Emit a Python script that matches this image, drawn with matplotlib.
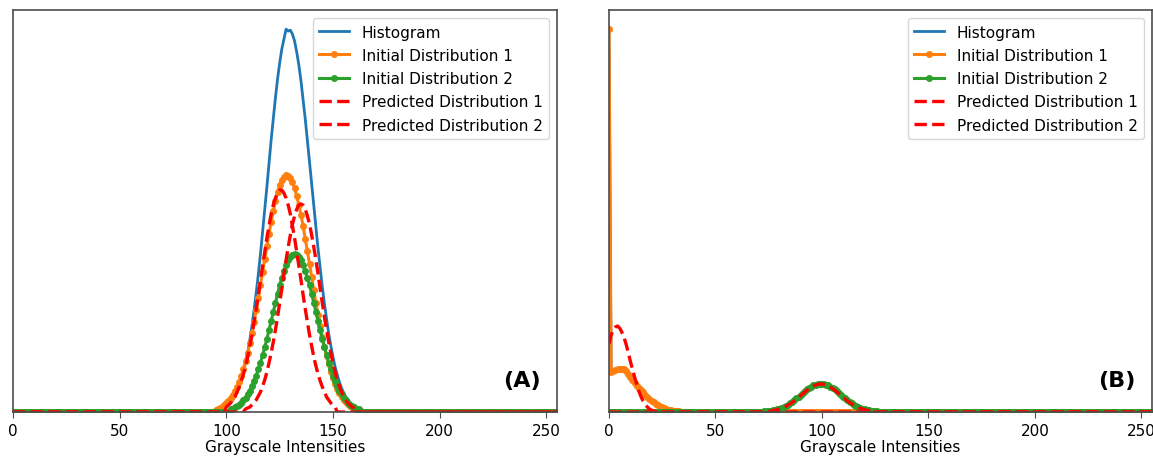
import numpy as np
import matplotlib
matplotlib.use("Agg")
import matplotlib.pyplot as plt

# ---------------- data ----------------
intensities = np.arange(256)
x_ticks = [0, 50, 100, 150, 200, 250]
legend_labels = ["Histogram", "Initial Distribution 1", "Initial Distribution 2",
                 "Predicted Distribution 1", "Predicted Distribution 2"]
panel_tags = ["(A)", "(B)"]
x_label = "Grayscale Intensities"

# Panel A : non-zero portions (start intensity, values); elsewhere zero
a_hist_start = 99
a_hist = [0.04, 0.05, 0.07, 0.09, 0.12, 0.16, 0.20, 0.25, 0.32, 0.40, 0.49, 0.59,
          0.72, 0.86, 1.02, 1.19, 1.38, 1.58, 1.80, 2.02, 2.25, 2.49, 2.72, 2.93,
          3.14, 3.33, 3.49, 3.63, 3.73, 3.83, 3.81, 3.82, 3.78, 3.71, 3.60, 3.47,
          3.31, 3.12, 2.93, 2.72, 2.50, 2.28, 2.06, 1.84, 1.63, 1.44, 1.25, 1.08,
          0.93, 0.78, 0.66, 0.55, 0.45, 0.37, 0.30, 0.24, 0.19, 0.15, 0.12, 0.09,
          0.07, 0.05, 0.04, 0.03, 0.02, 0.01]

a_init1_start = 95
a_init1 = [0.02, 0.03, 0.04, 0.05, 0.07, 0.09, 0.11, 0.14, 0.17, 0.21, 0.25, 0.30,
           0.36, 0.43, 0.51, 0.59, 0.69, 0.79, 0.90, 1.02, 1.14, 1.27, 1.40, 1.53,
           1.66, 1.78, 1.90, 2.01, 2.11, 2.20, 2.27, 2.32, 2.35, 2.37, 2.36, 2.34,
           2.30, 2.24, 2.16, 2.07, 1.97, 1.86, 1.73, 1.61, 1.48, 1.35, 1.22, 1.09,
           0.97, 0.86, 0.75, 0.65, 0.56, 0.48, 0.40, 0.34, 0.28, 0.23, 0.19, 0.15,
           0.12, 0.10, 0.08, 0.06, 0.05, 0.04, 0.03, 0.02, 0.01]

a_init2_start = 102
a_init2 = [0.03, 0.03, 0.05, 0.06, 0.07, 0.09, 0.12, 0.14, 0.18, 0.21, 0.26, 0.31,
           0.36, 0.43, 0.49, 0.57, 0.65, 0.73, 0.82, 0.91, 1.00, 1.09, 1.18, 1.27,
           1.34, 1.41, 1.47, 1.52, 1.55, 1.57, 1.58, 1.57, 1.55, 1.52, 1.47, 1.41,
           1.34, 1.27, 1.18, 1.09, 1.00, 0.91, 0.82, 0.73, 0.65, 0.57, 0.49, 0.43,
           0.36, 0.31, 0.26, 0.21, 0.18, 0.14, 0.12, 0.09, 0.07, 0.06, 0.05, 0.03,
           0.03]

a_pred1_start = 100
a_pred1 = [0.05, 0.07, 0.09, 0.12, 0.15, 0.20, 0.25, 0.31, 0.38, 0.46, 0.55, 0.66,
           0.77, 0.90, 1.03, 1.17, 1.32, 1.46, 1.60, 1.74, 1.86, 1.98, 2.07, 2.14,
           2.19, 2.22, 2.22, 2.19, 2.14, 2.07, 1.98, 1.86, 1.74, 1.60, 1.46, 1.32,
           1.17, 1.03, 0.90, 0.77, 0.66, 0.55, 0.46, 0.38, 0.31, 0.25, 0.20, 0.15,
           0.12, 0.09, 0.07, 0.05]

a_pred2_start = 109
a_pred2 = [0.03, 0.04, 0.05, 0.07, 0.09, 0.12, 0.16, 0.20, 0.26, 0.32, 0.40, 0.49,
           0.59, 0.70, 0.82, 0.95, 1.09, 1.23, 1.38, 1.52, 1.65, 1.77, 1.88, 1.96,
           2.03, 2.07, 2.08, 2.07, 2.03, 1.96, 1.88, 1.77, 1.65, 1.52, 1.38, 1.23,
           1.09, 0.95, 0.82, 0.70, 0.59, 0.49, 0.40, 0.32, 0.26, 0.20, 0.16, 0.12,
           0.09, 0.07, 0.05, 0.04, 0.03]

# Panel B
b_dark_start = 0
b_init1 = [3.83, 0.40, 0.41, 0.42, 0.43, 0.435, 0.435, 0.43, 0.41, 0.38, 0.35,
           0.32, 0.29, 0.265, 0.24, 0.22, 0.20, 0.175, 0.15, 0.13, 0.115, 0.098,
           0.08, 0.067, 0.055, 0.046, 0.038, 0.031, 0.025, 0.02, 0.015, 0.012,
           0.009, 0.007, 0.005, 0.003, 0.002]
b_hist_dark = [3.83, 0.40, 0.41, 0.42, 0.43, 0.435, 0.435, 0.43, 0.41, 0.38, 0.35,
               0.32, 0.29, 0.265, 0.24, 0.22, 0.20, 0.175, 0.15, 0.13, 0.115, 0.098,
               0.08, 0.067, 0.055, 0.046, 0.038, 0.031, 0.025, 0.02, 0.015, 0.012,
               0.009, 0.007, 0.005, 0.003, 0.002]
b_pred1 = [0.68, 0.77, 0.82, 0.85, 0.86, 0.84, 0.80, 0.75, 0.68, 0.60, 0.51, 0.43,
           0.35, 0.28, 0.21, 0.155, 0.11, 0.075, 0.05, 0.03, 0.018, 0.01, 0.005,
           0.002]

b_bright_start = 70
b_init2 = [0.002, 0.003, 0.004, 0.006, 0.008, 0.010, 0.013, 0.017, 0.022, 0.028,
           0.035, 0.043, 0.052, 0.063, 0.075, 0.089, 0.104, 0.120, 0.137, 0.155,
           0.173, 0.191, 0.209, 0.226, 0.241, 0.255, 0.266, 0.275, 0.282, 0.285,
           0.285, 0.282, 0.275, 0.266, 0.255, 0.241, 0.226, 0.209, 0.191, 0.173,
           0.155, 0.137, 0.120, 0.104, 0.089, 0.075, 0.063, 0.052, 0.043, 0.035,
           0.028, 0.022, 0.017, 0.013, 0.010, 0.008, 0.006, 0.004, 0.003]
b_hist_bright = [0.002, 0.003, 0.004, 0.006, 0.008, 0.010, 0.013, 0.017, 0.022, 0.028,
                 0.035, 0.043, 0.052, 0.063, 0.075, 0.089, 0.104, 0.120, 0.137, 0.155,
                 0.173, 0.191, 0.209, 0.226, 0.241, 0.255, 0.266, 0.275, 0.282, 0.285,
                 0.285, 0.282, 0.275, 0.266, 0.255, 0.241, 0.226, 0.209, 0.191, 0.173,
                 0.155, 0.137, 0.120, 0.104, 0.089, 0.075, 0.063, 0.052, 0.043, 0.035,
                 0.028, 0.022, 0.017, 0.013, 0.010, 0.008, 0.006, 0.004, 0.003]
b_pred2_start = 76
b_pred2 = [0.011, 0.014, 0.018, 0.023, 0.030, 0.037, 0.046, 0.056, 0.068, 0.081,
           0.095, 0.111, 0.128, 0.146, 0.164, 0.183, 0.201, 0.218, 0.234, 0.248,
           0.260, 0.270, 0.276, 0.280, 0.280, 0.276, 0.270, 0.260, 0.248, 0.234,
           0.218, 0.201, 0.183, 0.164, 0.146, 0.128, 0.111, 0.095, 0.081, 0.068,
           0.056, 0.046, 0.037, 0.030, 0.023, 0.018, 0.014, 0.011]


def full(segments):
    arr = np.zeros(len(intensities))
    for start, vals in segments:
        arr[start:start + len(vals)] = vals
    return arr


panels = [
    dict(hist=full([(a_hist_start, a_hist)]),
         init1=full([(a_init1_start, a_init1)]),
         init2=full([(a_init2_start, a_init2)]),
         pred1=full([(a_pred1_start, a_pred1)]),
         pred2=full([(a_pred2_start, a_pred2)])),
    dict(hist=full([(b_dark_start, b_hist_dark), (b_bright_start, b_hist_bright)]),
         init1=full([(b_dark_start, b_init1)]),
         init2=full([(b_bright_start, b_init2)]),
         pred1=full([(b_dark_start, b_pred1)]),
         pred2=full([(b_pred2_start, b_pred2)])),
]

# ---------------- figure ----------------
W, H = 1153, 460
fig = plt.figure(figsize=(W / 100, H / 100), dpi=100)
axes_boxes = [[13 / W, 47 / H, 544 / W, 402 / H],
              [609 / W, 47 / H, 543 / W, 402 / H]]

for box, data, tag in zip(axes_boxes, panels, panel_tags):
    ax = fig.add_axes(box)
    ax.plot(intensities, data["hist"], color="#1f77b4", lw=2.0, label=legend_labels[0])
    ax.plot(intensities, data["init1"], color="#ff7f0e", lw=2.2, marker=".",
            markersize=8, label=legend_labels[1])
    ax.plot(intensities, data["init2"], color="#2ca02c", lw=2.2, marker=".",
            markersize=8, label=legend_labels[2])
    ax.plot(intensities, data["pred1"], color="red", lw=2.4, ls="--",
            label=legend_labels[3])
    ax.plot(intensities, data["pred2"], color="red", lw=2.4, ls="--",
            label=legend_labels[4])
    top = max(data["hist"].max(), data["init1"].max())
    ax.set_xlim(0, 255)
    ax.set_ylim(0, top * 1.05)
    ax.set_yticks([])
    ax.set_xticks(x_ticks)
    ax.tick_params(axis="x", labelsize=11, length=4, color="0.3", pad=4)
    ax.set_xlabel(x_label, fontsize=11, labelpad=1)
    for sp in ax.spines.values():
        sp.set_color("0.3")
        sp.set_linewidth(1.2)
    ax.legend(loc="upper right", fontsize=11, framealpha=0.8, edgecolor="0.8",
              borderaxespad=0.55, labelspacing=0.54)
    ax.text(0.935, 0.08, tag, transform=ax.transAxes, fontsize=16,
            fontweight="bold", ha="center", va="center")

fig.savefig("out.png", dpi=100)
